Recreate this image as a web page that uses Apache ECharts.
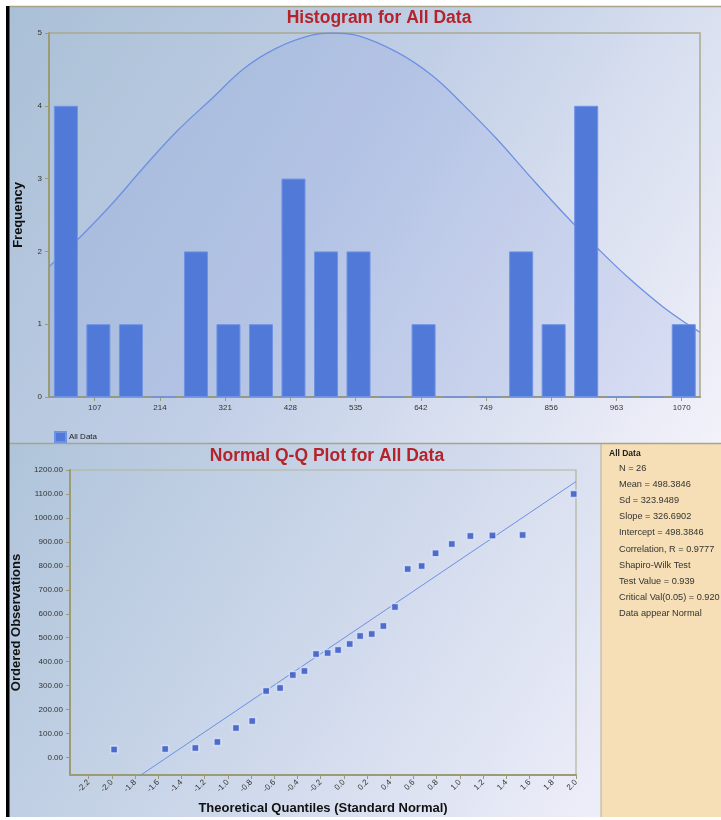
<!DOCTYPE html>
<html><head><meta charset="utf-8">
<script src="https://cdn.jsdelivr.net/npm/echarts@6/dist/echarts.min.js"></script>
<style>html,body{margin:0;padding:0;background:#fff}#c{width:721px;height:820px}</style>
</head><body><div id="c"></div>
<script>
// ---------- data ----------
const histTitle = 'Histogram for All Data';
const qqTitle = 'Normal Q-Q Plot for All Data';
const seriesName = 'All Data';
const binCenters = [59.7, 113.0, 166.4, 219.7, 273.1, 326.4, 379.8, 433.1, 486.5, 539.8,
                    593.2, 646.5, 699.9, 753.2, 806.6, 859.9, 913.3, 966.6, 1020.0, 1073.3];
const binCounts  = [4, 1, 1, 0, 2, 1, 1, 3, 2, 2, 0, 1, 0, 0, 2, 1, 4, 0, 0, 1];
const histXTicks = [107, 214, 321, 428, 535, 642, 749, 856, 963, 1070];
const curveX = [32, 80, 134, 189, 243, 298, 353, 407, 463, 498, 540, 602, 660, 711, 766, 821, 880, 936, 985, 1039, 1083, 1100];
const curveY = [1.79, 2.17, 2.64, 3.17, 3.66, 4.09, 4.52, 4.80, 4.97, 5.0, 4.96, 4.74, 4.42, 4.02, 3.55, 3.03, 2.49, 2.01, 1.62, 1.24, 0.98, 0.89];
const theoQ = [-1.98, -1.54, -1.28, -1.09, -0.93, -0.79, -0.67, -0.55, -0.44, -0.34, -0.24, -0.14, -0.05,
               0.05, 0.14, 0.24, 0.34, 0.44, 0.55, 0.67, 0.79, 0.93, 1.09, 1.28, 1.54, 1.98];
const observed = [33, 35, 40, 65, 123, 152, 278, 290, 344, 361, 432, 436, 449,
                  474, 507, 516, 549, 628, 787, 799, 853, 891, 925, 927, 929, 1100];
const qqXTicks = [-2.2, -2.0, -1.8, -1.6, -1.4, -1.2, -1.0, -0.8, -0.6, -0.4, -0.2, 0.0, 0.2, 0.4, 0.6, 0.8, 1.0, 1.2, 1.4, 1.6, 1.8, 2.0];
const qqYTicks = [0, 100, 200, 300, 400, 500, 600, 700, 800, 900, 1000, 1100, 1200];
const fitSlope = 326.6902;
const fitIntercept = 498.3846;
const statsHeader = 'All Data';
const statsLines = ['N = 26', 'Mean = 498.3846', 'Sd = 323.9489', 'Slope = 326.6902', 'Intercept = 498.3846',
                    'Correlation, R = 0.9777', 'Shapiro-Wilk Test', 'Test Value = 0.939',
                    'Critical Val(0.05) = 0.920', 'Data appear Normal'];

// ---------- chart ----------
const FONT = '"Liberation Sans", Arial, sans-serif';
const axisCol = '#9c9c74';
const qqXMin = -2.36, qqXMax = 2.0;
const chart = echarts.init(document.getElementById('c'), null, {renderer: 'canvas'});

const graphics = [
  {type: 'rect', z: -20, shape: {x: 9, y: 7, width: 712, height: 436},
   style: {fill: new echarts.graphic.LinearGradient(0, 0, 1, 1, [
     {offset: 0, color: '#aac0d6'}, {offset: 0.45, color: '#c0cee6'}, {offset: 1, color: '#f3f2fa'}])}},
  {type: 'rect', z: -20, shape: {x: 9, y: 444, width: 592, height: 373},
   style: {fill: new echarts.graphic.LinearGradient(0, 0, 1, 1, [
     {offset: 0, color: '#afc4da'}, {offset: 0.5, color: '#ccd7ea'}, {offset: 1, color: '#eeeef9'}])}},
  {type: 'rect', z: -20, shape: {x: 601, y: 444, width: 120, height: 373}, style: {fill: '#f6dfb6'}},
  {type: 'line', z: -19, shape: {x1: 601, y1: 444, x2: 601, y2: 817}, style: {stroke: '#b8b08a', lineWidth: 1}},
  {type: 'line', z: -19, shape: {x1: 9, y1: 443.5, x2: 721, y2: 443.5}, style: {stroke: '#a8a488', lineWidth: 1.5}},
  {type: 'line', z: -19, shape: {x1: 9, y1: 6.5, x2: 721, y2: 6.5}, style: {stroke: '#a8a488', lineWidth: 1.5}},
  {type: 'rect', z: -18, shape: {x: 6, y: 6, width: 3.5, height: 811}, style: {fill: '#000'}},
  {type: 'text', z: 10, left: 609, top: 449,
   style: {text: statsHeader, font: 'bold 8.5px ' + FONT, fill: '#222'}}
];
statsLines.forEach((t, i) => {
  graphics.push({type: 'text', z: 10, left: 619, top: 464 + i * 16.1,
                 style: {text: t, font: '9.2px ' + FONT, fill: '#333'}});
});

const option = {
  backgroundColor: '#ffffff',
  animation: false,
  textStyle: {fontFamily: FONT},
  title: [
    {text: histTitle, left: 374, top: 4, textAlign: 'center',
     textStyle: {color: '#b5242b', fontSize: 17.5, fontWeight: 'bold', fontFamily: FONT}},
    {text: qqTitle, left: 322, top: 442, textAlign: 'center',
     textStyle: {color: '#b5242b', fontSize: 17.5, fontWeight: 'bold', fontFamily: FONT}}
  ],
  legend: {data: [{name: seriesName, icon: 'rect'}], left: 54, top: 431, padding: 0, itemWidth: 11, itemHeight: 10, itemGap: 4,
           textStyle: {fontSize: 8, color: '#222', fontFamily: FONT, padding: [0, 0, 0, -2]}},
  grid: [
    {left: 49, top: 33, width: 651, height: 364, show: true, borderColor: '#a9a98e', borderWidth: 1.5, backgroundColor: 'transparent'},
    {left: 70, top: 470, width: 506, height: 305, show: true, borderColor: '#b4b49a', borderWidth: 1.2, backgroundColor: 'transparent'}
  ],
  xAxis: [
    {type: 'value', gridIndex: 0, min: 32, max: 1100,
     axisLine: {show: true, lineStyle: {color: axisCol, width: 2}},
     axisTick: {show: true, customValues: histXTicks, length: 4, lineStyle: {color: axisCol}},
     axisLabel: {customValues: histXTicks, fontSize: 8, color: '#333', margin: 7, formatter: v => String(v)},
     splitLine: {show: false}},
    {type: 'value', gridIndex: 1, min: qqXMin, max: qqXMax,
     name: 'Theoretical Quantiles (Standard Normal)', nameLocation: 'middle', nameGap: 27,
     nameTextStyle: {fontSize: 13, fontWeight: 'bold', color: '#111', fontFamily: FONT},
     axisLine: {show: true, onZero: false, lineStyle: {color: axisCol, width: 2}},
     axisTick: {show: true, customValues: qqXTicks, length: 4, lineStyle: {color: axisCol}},
     axisLabel: {customValues: qqXTicks, fontSize: 8, color: '#333', rotate: 45, margin: 6,
                 formatter: v => Number(v).toFixed(1)},
     splitLine: {show: false}}
  ],
  yAxis: [
    {type: 'value', gridIndex: 0, min: 0, max: 5, interval: 1,
     name: 'Frequency', nameLocation: 'middle', nameGap: 24,
     nameTextStyle: {fontSize: 13, fontWeight: 'bold', color: '#111', fontFamily: FONT},
     axisLine: {show: true, lineStyle: {color: axisCol, width: 2}},
     axisTick: {show: true, length: 4, lineStyle: {color: axisCol}},
     axisLabel: {fontSize: 8, color: '#333', margin: 7},
     splitLine: {show: false}},
    {type: 'value', gridIndex: 1, min: -73, max: 1200,
     name: 'Ordered Observations', nameLocation: 'middle', nameGap: 45,
     nameTextStyle: {fontSize: 13, fontWeight: 'bold', color: '#111', fontFamily: FONT},
     axisLine: {show: true, onZero: false, lineStyle: {color: axisCol, width: 2}},
     axisTick: {show: true, customValues: qqYTicks, length: 4, lineStyle: {color: axisCol}},
     axisLabel: {customValues: qqYTicks, fontSize: 8, color: '#333', margin: 7,
                 formatter: v => Number(v).toFixed(2)},
     splitLine: {show: false}}
  ],
  graphic: graphics,
  series: [
    {type: 'line', name: 'Normal Curve', xAxisIndex: 0, yAxisIndex: 0, z: 1,
     data: curveX.map((x, i) => [x, curveY[i]]), smooth: 0.4, showSymbol: false, clip: true,
     lineStyle: {color: '#6e90e2', width: 1.3},
     areaStyle: {color: 'rgba(110, 140, 220, 0.22)'}},
    {type: 'bar', name: seriesName, xAxisIndex: 0, yAxisIndex: 0, z: 3,
     data: binCenters.map((x, i) => [x, binCounts[i]]), barWidth: 24,
     itemStyle: {color: '#5079d8', borderColor: '#6f92e4', borderWidth: 1}},
    {type: 'line', name: 'Fit', xAxisIndex: 1, yAxisIndex: 1, z: 2, clip: true,
     data: [[qqXMin, fitIntercept + fitSlope * qqXMin], [qqXMax, fitIntercept + fitSlope * qqXMax]],
     showSymbol: false, lineStyle: {color: '#6d8fe4', width: 1}},
    {type: 'scatter', name: 'QQ', xAxisIndex: 1, yAxisIndex: 1, z: 4,
     data: theoQ.map((q, i) => [q, observed[i]]), symbol: 'rect', symbolSize: 7,
     itemStyle: {color: '#2f50c2', borderColor: '#dfe7fb', borderWidth: 1.5}}
  ]
};
chart.setOption(option);
</script>
</body></html>
